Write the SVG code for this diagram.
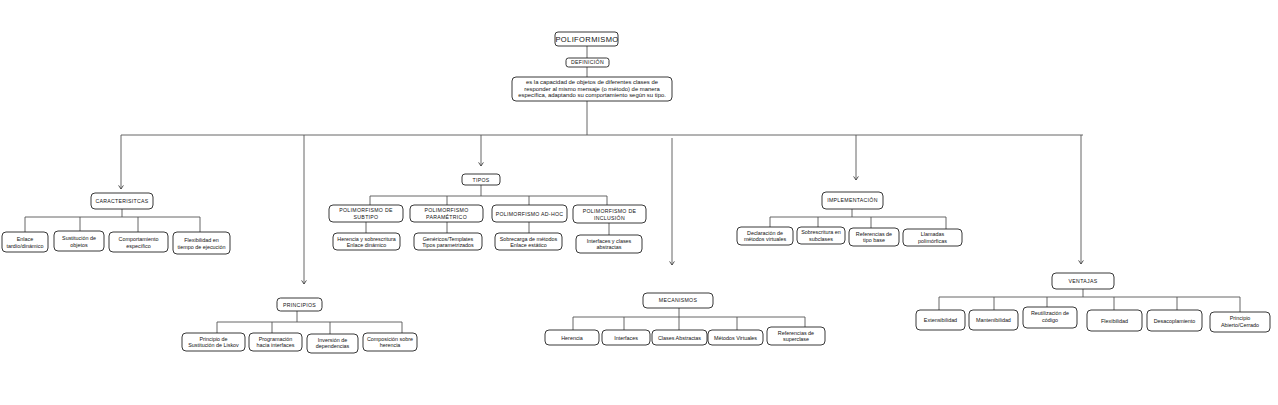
<svg xmlns="http://www.w3.org/2000/svg" width="1278" height="405" viewBox="0 0 1278 405">
<defs>
<marker id="arr" viewBox="0 0 10 10" refX="9" refY="5" markerWidth="6" markerHeight="6" orient="auto" markerUnits="userSpaceOnUse">
<path d="M3,1 L9,5 L3,9" fill="none" stroke="#444" stroke-width="1.5"/>
</marker>
<style>
.b{fill:#fff;stroke:#222;stroke-width:0.9}
.l{fill:none;stroke:#555;stroke-width:0.9}
.a{fill:none;stroke:#555;stroke-width:0.9;marker-end:url(#arr)}
text{font-family:"Liberation Sans",Arial,sans-serif;fill:#111;text-anchor:middle}
.t{font-size:5.4px}
.d{font-size:5.9px}
.h{font-size:5.2px;letter-spacing:0.3px}
.m{font-size:7.5px;letter-spacing:0.4px}
</style>
</defs>
<rect width="1278" height="405" fill="#fff"/>
<g id="connectors">
<path class="l" d="M587,46 V58 M587,67 V77 M587,101 V135 M121,135 H1083"/>
<path class="a" d="M121,135 V189"/>
<path class="a" d="M304,135 V284"/>
<path class="a" d="M481,135 V166"/>
<path class="a" d="M672,138 V265"/>
<path class="a" d="M856,135 V180"/>
<path class="a" d="M1081,135 V264"/>
<path class="l" d="M122,209 V217 M25,217 H200 M25,217 V232 M80,217 V231 M138,217 V232 M200,217 V232"/>
<path class="l" d="M481,185 V196 M370,196 H607 M370,196 V205 M447,196 V205 M529,196 V205 M607,196 V205"/>
<path class="l" d="M366,222 V233 M447,222 V233 M529,222 V233 M609,223 V235"/>
<path class="l" d="M852,209 V217 M770,217 H946 M770,217 V227 M818,217 V227 M871,217 V228 M946,217 V229"/>
<path class="l" d="M297,311 V322 M217,322 H402 M217,322 V333 M272,322 V333 M330,322 V334 M402,322 V333"/>
<path class="l" d="M679,308 V317 M573,317 H805 M573,317 V330 M624,317 V330 M679,317 V330 M737,317 V330 M805,317 V327"/>
<path class="l" d="M1083,289 V297 M939,297 H1240 M939,297 V310 M994,297 V310 M1047,297 V307 M1114,297 V310 M1177,297 V310 M1240,297 V312"/>
</g>
<g id="poliformismo"><rect class="b" x="555" y="32" width="63" height="14" rx="3"/><text class="m" x="587" y="41.8">POLIFORMISMO</text></g>
<g id="definicion"><rect class="b" x="566" y="58" width="43" height="9" rx="2.5"/><text class="h" x="587.5" y="64.3">DEFINICIÓN</text></g>
<g id="descripcion"><rect class="b" x="512" y="77" width="160" height="24" rx="4"/>
<text class="d" x="592" y="84.2">es la capacidad de objetos de diferentes clases de</text>
<text class="d" x="592" y="90.7">responder al mismo mensaje (o método) de manera</text>
<text class="d" x="592" y="97.2">específica, adaptando su comportamiento según su tipo.</text></g>

<g id="caracteristicas"><rect class="b" x="91" y="193" width="62" height="16" rx="4"/><text class="h" x="122" y="203">CARACTERISITCAS</text></g>
<g id="enlace"><rect class="b" x="2" y="232" width="46" height="20" rx="4"/><text class="t" x="25" y="240.5">Enlace</text><text class="t" x="25" y="247.5">tardío/dinámico</text></g>
<g id="sustitucion"><rect class="b" x="54" y="231" width="50" height="20" rx="4"/><text class="t" x="79" y="239.5">Sustitución de</text><text class="t" x="79" y="246.5">objetos</text></g>
<g id="comportamiento"><rect class="b" x="109" y="232" width="59" height="20" rx="4"/><text class="t" x="138.5" y="240.5">Comportamiento</text><text class="t" x="138.5" y="247.5">específico</text></g>
<g id="flexibilidad-ej"><rect class="b" x="173" y="232" width="57" height="22" rx="4"/><text class="t" x="201.5" y="241.5">Flexibilidad en</text><text class="t" x="201.5" y="248.5">tiempo de ejecución</text></g>

<g id="tipos"><rect class="b" x="462" y="174" width="38" height="11" rx="3"/><text class="h" x="481" y="181.6">TIPOS</text></g>
<g id="subtipo"><rect class="b" x="329" y="205" width="74" height="17" rx="4"/><text class="h" x="366" y="212">POLIMORFISMO DE</text><text class="h" x="366" y="219">SUBTIPO</text></g>
<g id="parametrico"><rect class="b" x="410" y="205" width="73" height="17" rx="4"/><text class="h" x="446.5" y="212">POLIMORFISMO</text><text class="h" x="446.5" y="219">PARAMÉTRICO</text></g>
<g id="adhoc"><rect class="b" x="492" y="205" width="75" height="17" rx="4"/><text class="h" x="529.5" y="215.5">POLIMORFISMO AD-HOC</text></g>
<g id="inclusion"><rect class="b" x="573" y="205" width="73" height="18" rx="4"/><text class="h" x="609.5" y="212.5">POLIMORFISMO DE</text><text class="h" x="609.5" y="219.5">INCLUSIÓN</text></g>
<g id="herencia-sobr"><rect class="b" x="333" y="233" width="67" height="17" rx="4"/><text class="t" x="366.5" y="240.5">Herencia y sobrescritura</text><text class="t" x="366.5" y="246.5">Enlace dinámico</text></g>
<g id="genericos"><rect class="b" x="414" y="233" width="68" height="17" rx="4"/><text class="t" x="448" y="240.5">Genéricos/Templates</text><text class="t" x="448" y="246.5">Tipos parametrizados</text></g>
<g id="sobrecarga"><rect class="b" x="495" y="233" width="67" height="17" rx="4"/><text class="t" x="528.5" y="240.5">Sobrecarga de métodos</text><text class="t" x="528.5" y="246.5">Enlace estático</text></g>
<g id="interfaces-clases"><rect class="b" x="576" y="235" width="66" height="18" rx="4"/><text class="t" x="609" y="242.5">Interfaces y clases</text><text class="t" x="609" y="249">abstractas</text></g>

<g id="implementacion"><rect class="b" x="822" y="192" width="61" height="17" rx="4"/><text class="h" x="852.5" y="202.3">IMPLEMENTACIÓN</text></g>
<g id="declaracion"><rect class="b" x="737" y="227" width="56" height="18" rx="4"/><text class="t" x="765" y="234.5">Declaración de</text><text class="t" x="765" y="241">métodos virtuales</text></g>
<g id="sobrescritura"><rect class="b" x="797" y="227" width="48" height="17" rx="4"/><text class="t" x="821" y="234">Sobrescritura en</text><text class="t" x="821" y="240.5">subclases</text></g>
<g id="referencias-tb"><rect class="b" x="849" y="228" width="50" height="18" rx="4"/><text class="t" x="874" y="235.5">Referencias de</text><text class="t" x="874" y="242">tipo base</text></g>
<g id="llamadas"><rect class="b" x="903" y="229" width="59" height="17" rx="4"/><text class="t" x="932.5" y="236">Llamadas</text><text class="t" x="932.5" y="242.5">polimórficas</text></g>

<g id="principios"><rect class="b" x="277" y="298" width="45" height="13" rx="3.5"/><text class="h" x="299.5" y="306.5">PRINCIPIOS</text></g>
<g id="liskov"><rect class="b" x="182" y="333" width="63" height="18" rx="4"/><text class="t" x="213.5" y="340.5">Principio de</text><text class="t" x="213.5" y="347">Sustitución de Liskov</text></g>
<g id="programacion"><rect class="b" x="249" y="333" width="53" height="18" rx="4"/><text class="t" x="275.5" y="340.5">Programación</text><text class="t" x="275.5" y="347">hacia interfaces</text></g>
<g id="inversion"><rect class="b" x="307" y="334" width="51" height="19" rx="4"/><text class="t" x="332.5" y="341.5">Inversión de</text><text class="t" x="332.5" y="348">dependencias</text></g>
<g id="composicion"><rect class="b" x="363" y="333" width="54" height="18" rx="4"/><text class="t" x="390" y="340.5">Composición sobre</text><text class="t" x="390" y="347">herencia</text></g>

<g id="mecanismos"><rect class="b" x="643" y="293" width="70" height="15" rx="4"/><text class="h" x="678" y="302.3">MECANISMOS</text></g>
<g id="herencia"><rect class="b" x="545" y="330" width="54" height="15" rx="4"/><text class="t" x="572" y="339.5">Herencia</text></g>
<g id="interfaces"><rect class="b" x="602" y="330" width="48" height="15" rx="4"/><text class="t" x="626" y="339.5">Interfaces</text></g>
<g id="clases-abstractas"><rect class="b" x="652" y="330" width="55" height="15" rx="4"/><text class="t" x="679.5" y="339.5">Clases Abstractas</text></g>
<g id="metodos-virtuales"><rect class="b" x="708" y="330" width="55" height="15" rx="4"/><text class="t" x="735.5" y="339.5">Métodos Virtuales</text></g>
<g id="referencias-sc"><rect class="b" x="767" y="327" width="58" height="18" rx="4"/><text class="t" x="796" y="334.5">Referencias de</text><text class="t" x="796" y="341">superclase</text></g>

<g id="ventajas"><rect class="b" x="1052" y="273" width="62" height="16" rx="4"/><text class="h" x="1083" y="283">VENTAJAS</text></g>
<g id="extensibilidad"><rect class="b" x="916" y="310" width="49" height="20" rx="4"/><text class="t" x="940.5" y="322">Extensibilidad</text></g>
<g id="mantenibilidad"><rect class="b" x="969" y="310" width="49" height="20" rx="4"/><text class="t" x="993.5" y="322">Mantenibilidad</text></g>
<g id="reutilizacion"><rect class="b" x="1023" y="307" width="54" height="21" rx="4"/><text class="t" x="1050" y="315">Reutilización de</text><text class="t" x="1050" y="321.5">código</text></g>
<g id="flexibilidad"><rect class="b" x="1087" y="310" width="55" height="21" rx="4"/><text class="t" x="1114.5" y="322.5">Flexibilidad</text></g>
<g id="desacoplamiento"><rect class="b" x="1147" y="310" width="55" height="21" rx="4"/><text class="t" x="1174.5" y="322.5">Desacoplamiento</text></g>
<g id="abierto-cerrado"><rect class="b" x="1210" y="312" width="60" height="20" rx="4"/><text class="t" x="1240" y="320">Principio</text><text class="t" x="1240" y="326.5">Abierto/Cerrado</text></g>
</svg>
